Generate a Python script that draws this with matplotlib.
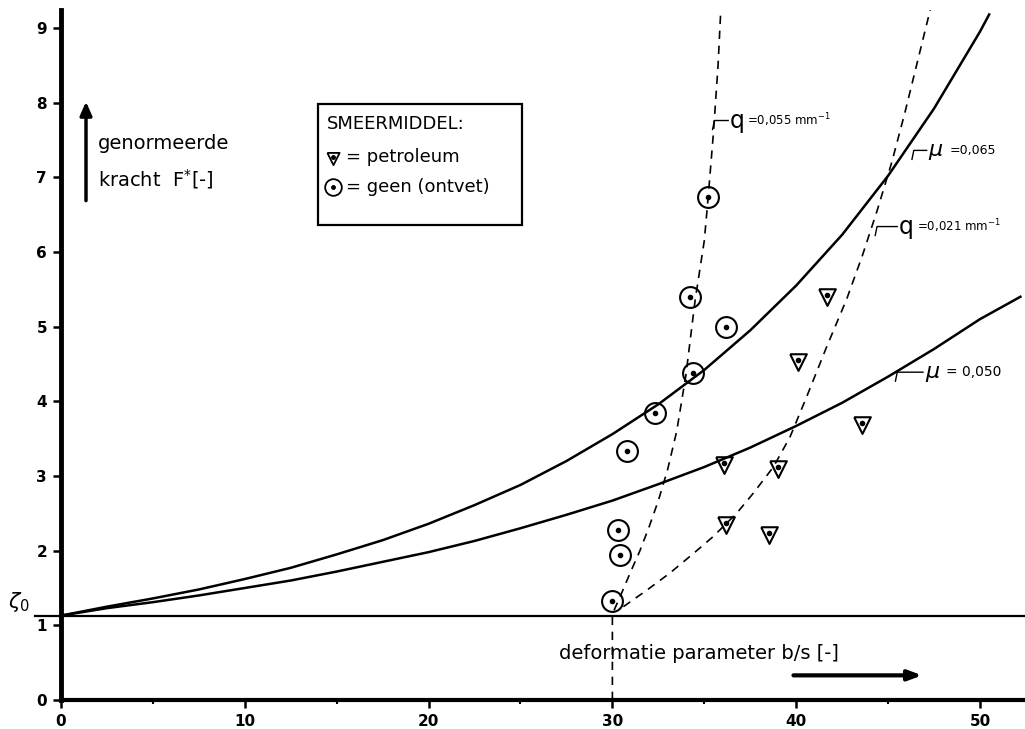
import matplotlib
matplotlib.use("Agg")
import matplotlib.pyplot as plt
import matplotlib.patches as mpatches

plt.rcParams["font.family"] = ["DejaVu Sans"]
plt.rcParams["mathtext.fontset"] = "dejavusans"

# ── data ─────────────────────────────────────────────────────────────────────
tau0 = 1.13

# measured points
geen_x = [30.0, 30.4, 30.3, 30.8, 32.3, 34.4, 34.2, 36.2, 35.2]
geen_y = [1.32, 1.94, 2.28, 3.33, 3.84, 4.38, 5.40, 5.00, 6.74]
petr_x = [36.2, 38.5, 36.1, 39.0, 43.6, 40.1, 41.7]
petr_y = [2.37, 2.23, 3.17, 3.12, 3.71, 4.55, 5.42]

# friction curves
mu065_x = [0, 2.5, 5, 7.5, 10, 12.5, 15, 17.5, 20, 22.5, 25, 27.5, 30, 32.5,
           35, 37.5, 40, 42.5, 45, 47.5, 50, 50.5]
mu065_y = [1.13, 1.25, 1.36, 1.48, 1.62, 1.77, 1.95, 2.14, 2.36, 2.61, 2.88,
           3.20, 3.56, 3.96, 4.42, 4.95, 5.55, 6.23, 7.02, 7.92, 8.95, 9.18]
mu050_x = [0, 2.5, 5, 7.5, 10, 12.5, 15, 17.5, 20, 22.5, 25, 27.5, 30, 32.5,
           35, 37.5, 40, 42.5, 45, 47.5, 50, 52.2]
mu050_y = [1.13, 1.23, 1.31, 1.40, 1.50, 1.60, 1.72, 1.85, 1.98, 2.13, 2.30,
           2.48, 2.67, 2.89, 3.12, 3.38, 3.67, 3.98, 4.33, 4.70, 5.10, 5.40]

# strain-hardening curves (dashed)
q055_x = [30.0, 30.0, 30.5, 31.0, 31.5, 32.0, 32.5, 33.0, 33.5, 34.0, 34.5,
          35.0, 35.2, 35.5, 35.75, 35.9]
q055_y = [0.0, 1.15, 1.43, 1.72, 2.00, 2.32, 2.67, 3.08, 3.60, 4.35, 5.35,
          6.15, 6.70, 7.60, 8.50, 9.25]
q021_x = [30.6, 31.87, 33.13, 34.4, 35.49, 36.76, 37.67, 38.76, 39.66, 40.57,
          41.66, 42.75, 43.6, 44.4, 45.2, 45.9, 46.6, 47.3]
q021_y = [1.25, 1.47, 1.70, 1.96, 2.19, 2.50, 2.77, 3.12, 3.52, 4.06, 4.73,
          5.37, 5.95, 6.55, 7.20, 7.85, 8.55, 9.25]

x_ticks = [0, 10, 20, 30, 40, 50]
x_minor = [5, 15, 25, 35, 45]
y_ticks = [0, 1, 2, 3, 4, 5, 6, 7, 8, 9]

# ── figure ───────────────────────────────────────────────────────────────────
fig = plt.figure(figsize=(10.25, 7.29), dpi=100)
ax = fig.add_axes([61 / 1025, 29 / 729, 964 / 1025, 690 / 729])
ax.set_xlim(0, 52.45)
ax.set_ylim(0, 9.24)

# triangle marker with the dot in its upper third
tri = [(-1.0, 0.75), (1.0, 0.75), (0.0, -1.25), (-1.0, 0.75)]

ax.plot(mu065_x, mu065_y, color="black", lw=1.8, zorder=3)
ax.plot(mu050_x, mu050_y, color="black", lw=1.8, zorder=3)
ax.plot(q055_x, q055_y, color="black", lw=1.2, ls=(0, (5, 4)), zorder=3)
ax.plot(q021_x, q021_y, color="black", lw=1.2, ls=(0, (5, 4)), zorder=3)

# tau0 line
ax.plot([-1.4, 52.45], [tau0, tau0], color="black", lw=1.6, clip_on=False, zorder=3)
ax.text(-2.3, tau0 + 0.02, r"$\zeta_0$", fontsize=15, ha="center", va="bottom")

ax.plot(geen_x, geen_y, ls="none", marker="o", ms=15, mfc="none", mec="black",
        mew=1.5, zorder=4)
ax.plot(geen_x, geen_y, ls="none", marker="o", ms=3, color="black", zorder=4)
ax.plot(petr_x, petr_y, ls="none", marker=tri, ms=15, mfc="none", mec="black",
        mew=1.5, zorder=4)
ax.plot(petr_x, petr_y, ls="none", marker="o", ms=3, color="black", zorder=4)

# curve labels with little leader hooks
def lab(x0, y0, x1, y1, sym, rest, sym_size, rest_size, dx):
    ax.plot([x0, x0 + 0.1, x1], [y0 - 0.12, y1, y1], color="black", lw=1.0)
    ax.text(x1 + 0.1, y1, sym, fontsize=sym_size, ha="left", va="center",
            style="italic" if sym == "μ" else "normal")
    ax.text(x1 + 0.1 + dx, y1, rest, fontsize=rest_size, ha="left", va="center")

lab(35.45, 7.76, 36.3, 7.76, "q", "=0,055 mm$^{-1}$", 17, 8.5, 0.95)
lab(44.3, 6.34, 45.5, 6.34, "q", "=0,021 mm$^{-1}$", 17, 8.5, 0.95)
lab(46.3, 7.36, 47.1, 7.36, "μ", "=0,065", 16, 9, 1.15)
lab(45.4, 4.39, 46.9, 4.39, "μ", "= 0,050", 16, 10, 1.15)

# legend box
ax.add_patch(mpatches.Rectangle((13.98, 6.36), 11.1, 1.62, fill=True, fc="white",
                                ec="black", lw=1.6, zorder=5))
ax.text(14.45, 7.72, "SMEERMIDDEL:", fontsize=13, ha="left", va="center", zorder=6)
ax.plot([14.8], [7.27], marker=tri, ms=11, mfc="none", mec="black", mew=1.3, zorder=6)
ax.plot([14.8], [7.27], marker="o", ms=2.5, color="black", zorder=6)
ax.text(15.5, 7.27, "= petroleum", fontsize=13, ha="left", va="center", zorder=6)
ax.plot([14.8], [6.87], marker="o", ms=12, mfc="none", mec="black", mew=1.3, zorder=6)
ax.plot([14.8], [6.87], marker="o", ms=2.5, color="black", zorder=6)
ax.text(15.5, 6.87, "= geen (ontvet)", fontsize=13, ha="left", va="center", zorder=6)

# y label with arrow
ax.annotate("", xy=(1.36, 8.05), xytext=(1.36, 6.65),
            arrowprops=dict(arrowstyle="-|>,head_width=0.35,head_length=0.8",
                            color="black", lw=2.5))
ax.text(2.0, 7.45, "genormeerde", fontsize=14, ha="left", va="center")
ax.text(2.0, 6.98, "kracht  F$^{*}$[-]", fontsize=14, ha="left", va="center")

# x label with arrow
ax.text(27.1, 0.62, "deformatie parameter b/s [-]", fontsize=14, ha="left", va="center")
ax.annotate("", xy=(47.0, 0.33), xytext=(39.7, 0.33),
            arrowprops=dict(arrowstyle="-|>,head_width=0.3,head_length=0.8",
                            color="black", lw=3))

# axes styling
for s in ["top", "right"]:
    ax.spines[s].set_visible(False)
ax.spines["left"].set_linewidth(3.5)
ax.spines["bottom"].set_linewidth(3.0)
ax.set_xticks(x_ticks)
ax.set_xticks(x_minor, minor=True)
ax.set_yticks(y_ticks)
ax.tick_params(axis="both", which="major", direction="out", length=6, width=1.8,
               labelsize=11, pad=4)
ax.tick_params(axis="x", which="minor", direction="out", length=3, width=1.5)
for t in ax.get_xticklabels() + ax.get_yticklabels():
    t.set_fontweight("bold")

fig.savefig("out.png", dpi=100)
